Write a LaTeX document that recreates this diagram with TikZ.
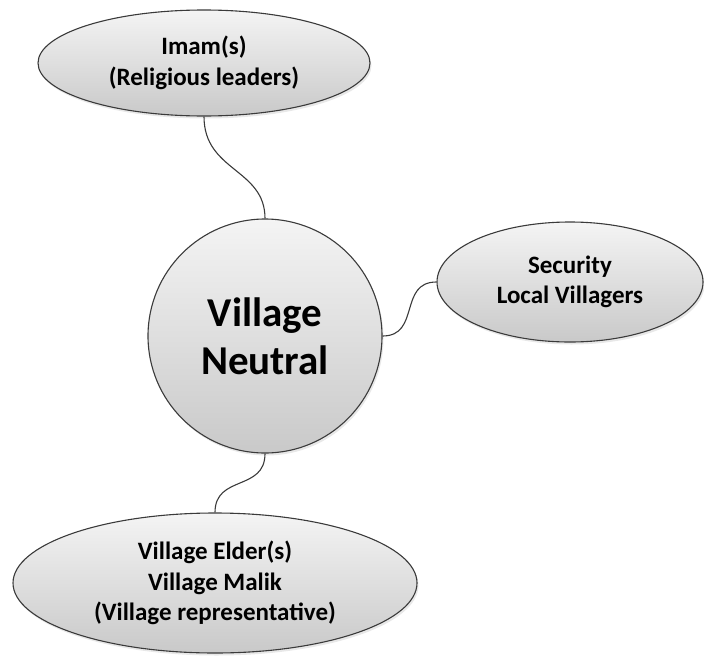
\documentclass[tikz,border=0pt]{standalone}
\usepackage{fontspec}
\setmainfont{Carlito}
\usetikzlibrary{shapes.geometric,shadows}
\definecolor{edgegray}{HTML}{3A3A3A}
\definecolor{topfill}{HTML}{F4F4F4}
\definecolor{botfill}{HTML}{C9C9C9}
\begin{document}
\begin{tikzpicture}[x=1pt,y=-1pt,
  bubble/.style={ellipse, draw=edgegray, line width=1.1pt, inner sep=0pt,
    top color=topfill, bottom color=botfill, align=center,
    drop shadow={opacity=0.18, shadow xshift=1.5pt, shadow yshift=-2.5pt},
    font=\bfseries\fontsize{25}{30.5}\selectfont},
  hub/.style={circle, draw=edgegray, line width=1.1pt, inner sep=0pt,
    top color=topfill, bottom color=botfill, align=center,
    drop shadow={opacity=0.18, shadow xshift=1.5pt, shadow yshift=-2.5pt},
    font=\bfseries\fontsize{41}{48}\selectfont},
  link/.style={draw=edgegray, line width=1.1pt}]
\useasboundingbox (0,0) rectangle (704,656);
\node[hub, minimum size=234pt] (c) at (265,336) {Village\\Neutral};
\node[bubble, minimum width=332pt, minimum height=106pt] (t) at (204,63) {Imam(s)\\(Religious leaders)};
\node[bubble, minimum width=266pt, minimum height=120pt] (r) at (570,282) {Security\\Local Villagers};
\node[bubble, minimum width=404pt, minimum height=140pt] (b) at (215,583) {Village Elder(s)\\Village Malik\\(Village representative)};
\draw[link] (t.south) .. controls +(0,55) and +(0,-50) .. (c.north);
\draw[link] (c.east) .. controls +(38,0) and +(-38,0) .. (r.west);
\draw[link] (c.south) .. controls +(0,38) and +(0,-38) .. (b.north);
\end{tikzpicture}
\end{document}
